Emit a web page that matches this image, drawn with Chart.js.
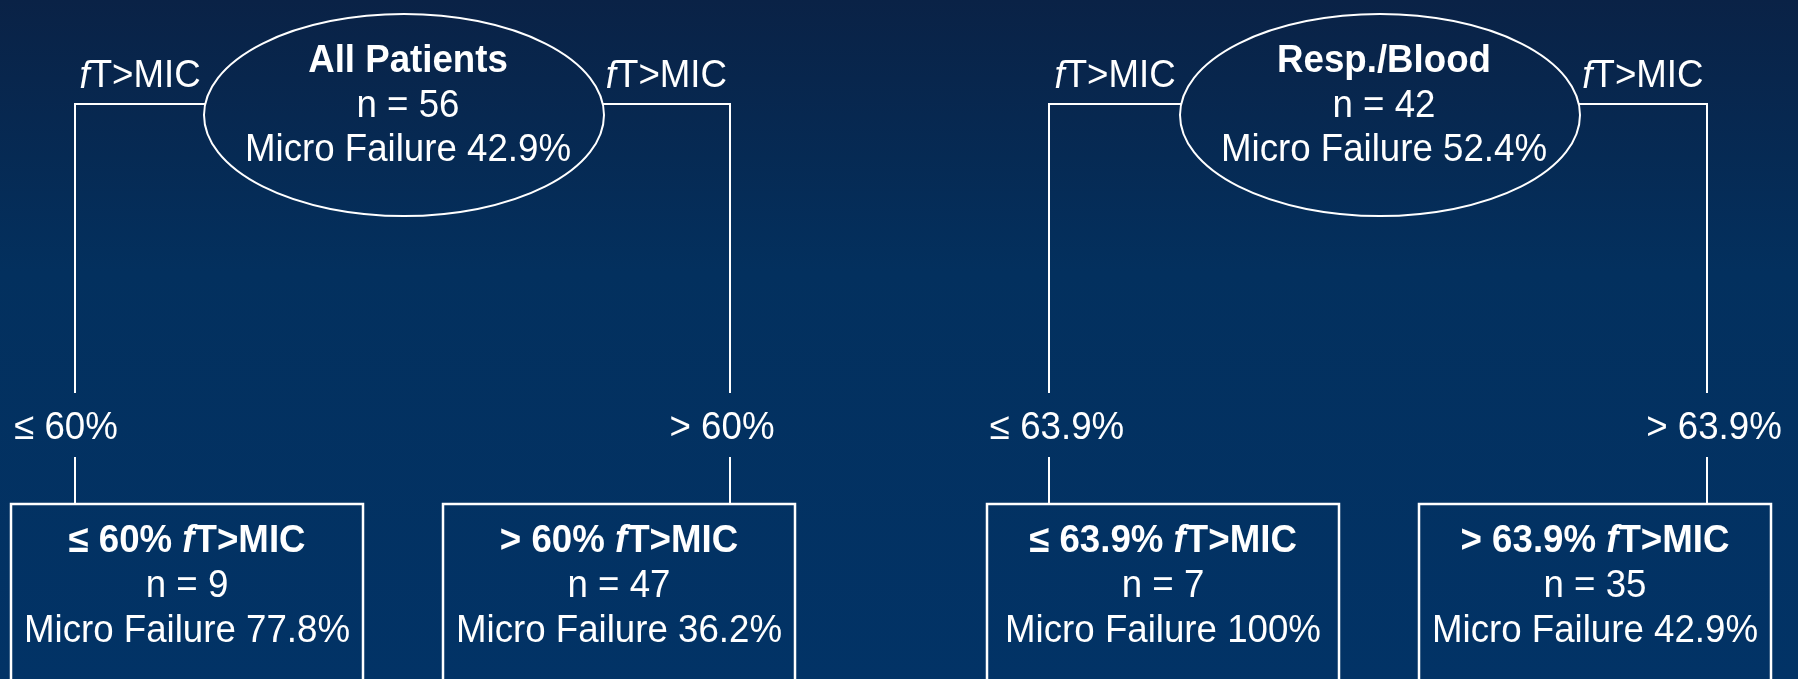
<!DOCTYPE html>
<html>
<head>
<meta charset="utf-8">
<script src="https://cdn.jsdelivr.net/npm/chart.js@4.4.0/dist/chart.umd.min.js"></script>
<style>
  html, body { margin: 0; padding: 0; }
  body {
    width: 1798px; height: 679px; overflow: hidden;
    background: linear-gradient(to bottom, #0a2246 0%, #03305e 40%, #023366 100%);
  }
  #wrap { position: relative; width: 1798px; height: 679px; }
</style>
</head>
<body>
<div id="wrap"><canvas id="tree"></canvas></div>
<script>
// ---- tree data ----
const rootTitles = ['All Patients', 'Resp./Blood'];
const rootN = [56, 42];
const rootFailure = [42.9, 52.4];
const splitCutoffs = [60, 63.9];
const leafN = [[9, 47], [7, 35]];
const leafFailure = [[77.8, 36.2], [100, 42.9]];

// ---- layout, in scale units (x 0..1798, y 0..679 top-down) ----
const layout = {
  rootX: [404, 1380],
  rootY: 115, rx: 200, ry: 101,
  branchY: 104,
  branchX: [[75, 730], [1049, 1707]],
  splitLabelY: 429, gapTop: 393, gapBottom: 457,
  splitLabelDx: [[-9, -8], [8, 7]],
  leafX: [[187, 619], [1163, 1595]],
  leafW: 352, leafTop: 504, leafBottom: 740,
  rootLines: [62, 107, 151],
  leafLines: [542, 587, 632]
};

const FAM = '"Liberation Sans", Arial, sans-serif';
const SZ = 38;
const HSCALE = 0.965; // glyphs in the original are a bit condensed
const F = {
  reg: SZ + 'px ' + FAM,
  bold: 'bold ' + SZ + 'px ' + FAM,
  ital: 'italic ' + SZ + 'px ' + FAM,
  boldItal: 'italic bold ' + SZ + 'px ' + FAM
};

const pct = v => String(v) + '%';

// connector lines as line datasets (gap around the split label)
const datasets = [];
[0, 1].forEach(t => {
  [0, 1].forEach(s => {
    const x = layout.branchX[t][s];
    const dy = (layout.branchY - layout.rootY) / layout.ry;
    const half = layout.rx * Math.sqrt(1 - dy * dy);
    const edge = layout.rootX[t] + (s === 0 ? -half : half);
    datasets.push({
      data: [
        { x: x, y: layout.leafTop },
        { x: x, y: layout.gapBottom },
        { x: x, y: null },
        { x: x, y: layout.gapTop },
        { x: x, y: layout.branchY },
        { x: edge, y: layout.branchY }
      ],
      borderColor: '#ffffff',
      borderWidth: 2,
      pointRadius: 0,
      tension: 0,
      fill: false,
      spanGaps: false
    });
  });
});

function drawRich(ctx, parts, cx, cy) {
  let total = 0;
  parts.forEach(p => { ctx.font = p.font; p.w = ctx.measureText(p.t).width * HSCALE; total += p.w; });
  let x = cx - total / 2;
  ctx.textAlign = 'left';
  ctx.textBaseline = 'middle';
  parts.forEach(p => {
    ctx.save();
    ctx.font = p.font;
    ctx.translate(x, cy);
    ctx.scale(HSCALE, 1);
    ctx.fillText(p.t, 0, 0);
    ctx.restore();
    x += p.w;
  });
}

const treePlugin = {
  id: 'treeNodes',
  afterDatasetsDraw(chart) {
    const { ctx, scales: { x: xs, y: ys } } = chart;
    const px = v => xs.getPixelForValue(v);
    const py = v => ys.getPixelForValue(v);
    ctx.save();
    ctx.fillStyle = '#ffffff';
    ctx.strokeStyle = '#ffffff';

    rootTitles.forEach((title, t) => {
      // root ellipse
      const cx = px(layout.rootX[t]), cy = py(layout.rootY);
      const rx = Math.abs(px(layout.rootX[t] + layout.rx) - cx);
      const ry = Math.abs(py(layout.rootY + layout.ry) - cy);
      ctx.lineWidth = 2;
      ctx.beginPath();
      ctx.ellipse(cx, cy, rx, ry, 0, 0, Math.PI * 2);
      ctx.stroke();

      drawRich(ctx, [{ t: title, font: F.bold }], cx + 4, py(layout.rootLines[0]));
      drawRich(ctx, [{ t: 'n = ' + rootN[t], font: F.reg }], cx + 4, py(layout.rootLines[1]));
      drawRich(ctx, [{ t: 'Micro Failure ' + pct(rootFailure[t]), font: F.reg }], cx + 4, py(layout.rootLines[2]));

      [0, 1].forEach(s => {
        // fT>MIC label above the branch
        const bx = layout.branchX[t][s];
        const dy = (layout.branchY - layout.rootY) / layout.ry;
        const half = layout.rx * Math.sqrt(1 - dy * dy);
        const edge = layout.rootX[t] + (s === 0 ? -half : half);
        const mid = (bx + edge) / 2;
        drawRich(ctx, [{ t: 'f', font: F.ital }, { t: 'T>MIC', font: F.reg }], px(mid), py(layout.branchY - 27));

        // split label
        const cut = pct(splitCutoffs[t]);
        const sign = s === 0 ? '\u2264 ' : '> ';
        drawRich(ctx, [{ t: sign + cut, font: F.reg }],
          px(bx + layout.splitLabelDx[t][s]), py(layout.splitLabelY));

        // leaf box
        const lx = layout.leafX[t][s];
        const x0 = px(lx - layout.leafW / 2), x1 = px(lx + layout.leafW / 2);
        const y0 = py(layout.leafTop), y1 = py(layout.leafBottom);
        ctx.lineWidth = 2.5;
        ctx.strokeRect(x0, y0, x1 - x0, y1 - y0);

        const lcx = px(lx);
        drawRich(ctx, [
          { t: sign + cut + ' ', font: F.bold },
          { t: 'f', font: F.boldItal },
          { t: 'T>MIC', font: F.bold }
        ], lcx, py(layout.leafLines[0]));
        drawRich(ctx, [{ t: 'n = ' + leafN[t][s], font: F.reg }], lcx, py(layout.leafLines[1]));
        drawRich(ctx, [{ t: 'Micro Failure ' + pct(leafFailure[t][s]), font: F.reg }], lcx, py(layout.leafLines[2]));
      });
    });
    ctx.restore();
  }
};

new Chart(document.getElementById('tree'), {
  type: 'line',
  data: { datasets: datasets },
  options: {
    responsive: true,
    maintainAspectRatio: false,
    animation: false,
    events: [],
    layout: { padding: 0 },
    plugins: { legend: { display: false }, tooltip: { enabled: false } },
    scales: {
      x: { type: 'linear', min: 0, max: 1798, display: false },
      y: { type: 'linear', min: 0, max: 679, reverse: true, display: false }
    }
  },
  plugins: [treePlugin]
});
</script>
</body>
</html>
